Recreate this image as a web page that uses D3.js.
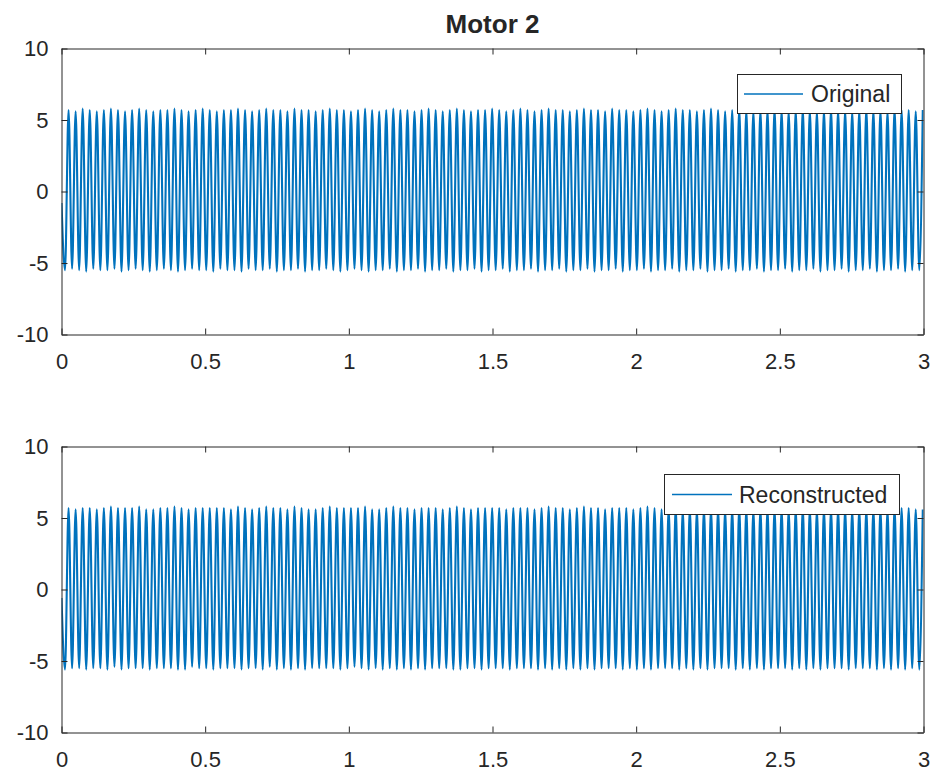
<!DOCTYPE html>
<html><head><meta charset="utf-8">
<script src="https://cdn.jsdelivr.net/npm/d3@7"></script>
<style>body{margin:0;background:#fff}svg{display:block}text{font-family:"Liberation Sans",Arial,Helvetica,sans-serif;fill:#262626}</style>
</head><body><svg id="c" width="938" height="776"></svg>
<script>
const title = "Motor 2";
const xTicks = [0, 0.5, 1, 1.5, 2, 2.5, 3];
const xTickLabels = ["0", "0.5", "1", "1.5", "2", "2.5", "3"];
const yTicks = [-10, -5, 0, 5, 10];
const yTickLabels = ["-10", "-5", "0", "5", "10"];
const legendLabels = ["Original", "Reconstructed"];
// successive extrema (trough/peak) of the oscillation, one every half cycle
const cyclesPerSecond = 40.7;

const original = [
-0.8,
-5.5,5.7,-5.4,5.6,-5.5,5.8,-5.6,5.7,-5.4,5.6,-5.5,5.7,-5.5,5.8,-5.4,5.7,-5.6,5.6,-5.5,5.7,
-5.4,5.8,-5.5,5.7,-5.6,5.6,-5.5,5.7,-5.4,5.7,-5.5,5.8,-5.6,5.7,-5.5,5.6,-5.4,5.7,-5.5,5.8,
-5.5,5.7,-5.6,5.6,-5.4,5.7,-5.5,5.7,-5.5,5.8,-5.6,5.7,-5.4,5.6,-5.5,5.7,-5.5,5.8,-5.4,5.7,
-5.6,5.7,-5.5,5.6,-5.5,5.8,-5.4,5.7,-5.6,5.7,-5.5,5.6,-5.5,5.7,-5.4,5.8,-5.5,5.7,-5.6,5.7,
-5.5,5.6,-5.4,5.7,-5.5,5.8,-5.6,5.7,-5.5,5.6,-5.5,5.7,-5.4,5.8,-5.6,5.7,-5.5,5.7,-5.5,5.6,
-5.4,5.7,-5.6,5.8,-5.5,5.7,-5.5,5.6,-5.4,5.7,-5.6,5.8,-5.5,5.7,-5.5,5.6,-5.4,5.7,-5.6,5.7,
-5.5,5.8,-5.5,5.7,-5.4,5.6,-5.6,5.7,-5.5,5.8,-5.5,5.7,-5.4,5.6,-5.6,5.7,-5.5,5.8,-5.5,5.7,
-5.4,5.7,-5.6,5.6,-5.5,5.7,-5.5,5.8,-5.4,5.7,-5.6,5.7,-5.5,5.6,-5.5,5.8,-5.4,5.7,-5.6,5.7,
-5.5,5.6,-5.5,5.7,-5.4,5.8,-5.6,5.7,-5.5,5.6,-5.5,5.7,-5.4,5.8,-5.6,5.7,-5.5,5.7,-5.5,5.6,
-5.4,5.7,-5.6,5.8,-5.5,5.7,-5.5,5.6,-5.4,5.7,-5.6,5.8,-5.5,5.7,-5.5,5.6,-5.4,5.7,-5.6,5.7,
-5.5,5.8,-5.5,5.7,-5.4,5.6,-5.6,5.7,-5.5,5.8,-5.5,5.7,-5.4,5.6,-5.6,5.7,-5.5,5.8,-5.5,5.7,
-5.4,5.7,-5.6,5.6,-5.5,5.7,-5.5,5.8,-5.4,5.7,-5.6,5.7,-5.5,5.6,-5.5,5.8,-5.4,5.7,-5.6,5.7,
-5.5,5.6,-5.5,5.7
];

const reconstructed = [
-0.6,
-5.6,5.7,-5.5,5.6,-5.5,5.7,-5.6,5.7,-5.5,5.6,-5.5,5.7,-5.6,5.8,-5.4,5.7,-5.6,5.7,-5.5,5.7,
-5.5,5.8,-5.5,5.6,-5.6,5.6,-5.5,5.7,-5.5,5.7,-5.5,5.8,-5.6,5.7,-5.6,5.6,-5.4,5.7,-5.5,5.7,
-5.5,5.7,-5.6,5.7,-5.5,5.7,-5.5,5.6,-5.5,5.8,-5.6,5.7,-5.5,5.6,-5.5,5.7,-5.6,5.8,-5.4,5.7,
-5.6,5.7,-5.5,5.6,-5.6,5.8,-5.5,5.7,-5.6,5.6,-5.5,5.6,-5.5,5.7,-5.5,5.8,-5.5,5.7,-5.6,5.7,
-5.5,5.7,-5.4,5.7,-5.5,5.8,-5.6,5.6,-5.5,5.6,-5.6,5.7,-5.5,5.8,-5.6,5.7,-5.5,5.7,-5.6,5.6,
-5.5,5.7,-5.6,5.7,-5.5,5.7,-5.5,5.6,-5.5,5.7,-5.6,5.8,-5.6,5.7,-5.5,5.6,-5.5,5.7,-5.6,5.7,
-5.5,5.7,-5.5,5.7,-5.5,5.6,-5.6,5.7,-5.5,5.7,-5.5,5.7,-5.5,5.6,-5.6,5.7,-5.5,5.8,-5.6,5.7,
-5.5,5.7,-5.6,5.6,-5.5,5.7,-5.6,5.8,-5.5,5.7,-5.6,5.7,-5.5,5.6,-5.5,5.7,-5.5,5.7,-5.6,5.7,
-5.5,5.6,-5.6,5.7,-5.5,5.8,-5.6,5.7,-5.5,5.6,-5.5,5.7,-5.5,5.8,-5.6,5.6,-5.5,5.7,-5.6,5.6,
-5.5,5.7,-5.6,5.7,-5.5,5.7,-5.5,5.6,-5.5,5.7,-5.6,5.8,-5.5,5.7,-5.6,5.6,-5.5,5.7,-5.6,5.7,
-5.5,5.7,-5.5,5.7,-5.5,5.6,-5.6,5.7,-5.5,5.8,-5.6,5.7,-5.5,5.6,-5.6,5.7,-5.5,5.7,-5.5,5.7,
-5.5,5.7,-5.6,5.6,-5.5,5.7,-5.5,5.7,-5.5,5.7,-5.6,5.7,-5.5,5.6,-5.6,5.8,-5.5,5.7,-5.6,5.7,
-5.5,5.6,-5.6,5.6
];

const svg = d3.select("#c");
const color = "#0072BD", axisColor = "#262626";
const left = 61.5, right = 923.5;
const panels = [
  {top: 48.5, bottom: 334.5, data: original, label: legendLabels[0],
   leg: {x0: 737.5, x1: 901.5, y0: 74.5, y1: 113.5, lx0: 744, lx1: 803, tx: 811}},
  {top: 446.5, bottom: 732.5, data: reconstructed, label: legendLabels[1],
   leg: {x0: 664.5, x1: 899.5, y0: 474.5, y1: 514.5, lx0: 672, lx1: 732, tx: 739}}
];

const x = d3.scaleLinear().domain([0, 3]).range([left, right]);
const tickLen = 6;
const halfCycle = 1 / (2 * cyclesPerSecond);

panels.forEach((p, pi) => {
  const y = d3.scaleLinear().domain([-10, 10]).range([p.bottom, p.top]);
  const g = svg.append("g");
  const clipId = "clip" + pi;
  svg.append("clipPath").attr("id", clipId).append("rect")
    .attr("x", left).attr("y", p.top).attr("width", right - left).attr("height", p.bottom - p.top);

  const line = d3.line().x((d, i) => x(i * halfCycle)).y(d => y(d)).curve(d3.curveMonotoneX);
  g.append("path").datum(p.data).attr("clip-path", `url(#${clipId})`)
    .attr("d", line).attr("fill", "none").attr("stroke", color)
    .attr("stroke-width", 2.1);

  const bottomAxis = d3.axisBottom(x).tickValues(xTicks).tickFormat((d, i) => xTickLabels[i])
    .tickSizeInner(-tickLen).tickSizeOuter(0).tickPadding(19);
  const topAxis = d3.axisTop(x).tickValues(xTicks).tickFormat("").tickSizeInner(-tickLen).tickSizeOuter(0);
  const leftAxis = d3.axisLeft(y).tickValues(yTicks).tickFormat((d, i) => yTickLabels[i])
    .tickSizeInner(-tickLen).tickSizeOuter(0).tickPadding(13);
  const rightAxis = d3.axisRight(y).tickValues(yTicks).tickFormat("").tickSizeInner(-tickLen).tickSizeOuter(0);

  const styleAxis = sel => {
    sel.select(".domain").attr("stroke", axisColor).attr("stroke-width", 1);
    sel.selectAll(".tick line").attr("stroke", axisColor).attr("stroke-width", 1);
    sel.selectAll(".tick text").attr("fill", axisColor).style("font-size", "22px")
      .style("font-family", '"Liberation Sans", Arial, sans-serif');
  };
  svg.append("g").attr("transform", `translate(0,${p.bottom})`).call(bottomAxis).call(styleAxis);
  svg.append("g").attr("transform", `translate(0,${p.top})`).call(topAxis).call(styleAxis);
  svg.append("g").attr("transform", `translate(${left},0)`).call(leftAxis).call(styleAxis);
  svg.append("g").attr("transform", `translate(${right},0)`).call(rightAxis).call(styleAxis);

  const L = p.leg;
  svg.append("rect").attr("x", L.x0).attr("y", L.y0).attr("width", L.x1 - L.x0).attr("height", L.y1 - L.y0)
    .attr("fill", "#fff").attr("stroke", axisColor).attr("stroke-width", 1);
  const ly = (L.y0 + L.y1) / 2;
  svg.append("line").attr("x1", L.lx0).attr("x2", L.lx1).attr("y1", ly).attr("y2", ly)
    .attr("stroke", color).attr("stroke-width", 1.3);
  svg.append("text").attr("x", L.tx).attr("y", ly).attr("dy", "0.36em")
    .style("font-size", "23px").text(p.label);
});

svg.append("text").attr("x", (left + right) / 2).attr("y", 33).attr("text-anchor", "middle")
  .style("font-size", "26px").style("font-weight", "bold").text(title);
</script></body></html>
